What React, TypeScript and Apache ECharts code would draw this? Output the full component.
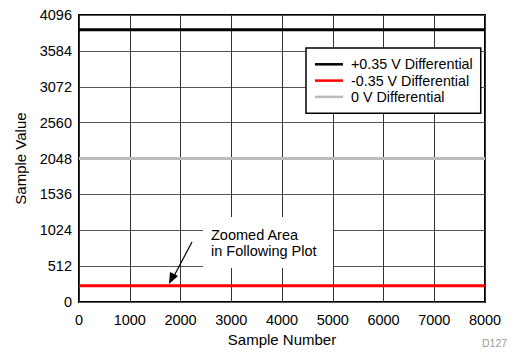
import React, { useEffect, useRef } from "react";
import * as echarts from "echarts";

const sampleNumbers = [0, 1000, 2000, 3000, 4000, 5000, 6000, 7000, 8000];
const positiveDiff = [3886, 3886, 3886, 3886, 3886, 3886, 3886, 3886, 3886];
const negativeDiff = [234, 234, 234, 234, 234, 234, 234, 234, 234];
const zeroDiff = [2050, 2050, 2050, 2050, 2050, 2050, 2050, 2050, 2050];
const seriesNames = ["+0.35 V Differential", "-0.35 V Differential", "0 V Differential"];
const xTicks = [0, 1000, 2000, 3000, 4000, 5000, 6000, 7000, 8000];
const yTicks = [0, 512, 1024, 1536, 2048, 2560, 3072, 3584, 4096];

const FONT = "Liberation Sans, Arial, Helvetica, sans-serif";

export default function App() {
  const ref = useRef<HTMLDivElement>(null);
  useEffect(() => {
    if (!ref.current) return;
    const chart = echarts.init(ref.current, null, { renderer: "svg" });
    const pair = (vals: number[]) => sampleNumbers.map((x, i) => [x, vals[i]]);
    chart.setOption({
      animation: false,
      backgroundColor: "#fff",
      textStyle: { fontFamily: FONT },
      grid: {
        left: 79,
        top: 15,
        width: 406,
        height: 288.5,
        show: true,
        borderColor: "#000",
        borderWidth: 2,
        backgroundColor: "transparent",
      },
      xAxis: {
        type: "value",
        min: xTicks[0],
        max: xTicks[xTicks.length - 1],
        interval: 1000,
        name: "Sample Number",
        nameLocation: "middle",
        nameGap: 27,
        nameTextStyle: { fontSize: 15, color: "#000", fontFamily: FONT },
        axisLine: { show: false },
        axisTick: { show: false },
        axisLabel: {
          fontSize: 14.5,
          color: "#000",
          margin: 10,
          fontFamily: FONT,
          formatter: (v: number) => String(v),
        },
        splitLine: { show: true, lineStyle: { color: "#333", width: 1 } },
      },
      yAxis: {
        type: "value",
        min: yTicks[0],
        max: yTicks[yTicks.length - 1],
        interval: 512,
        name: "Sample Value",
        nameLocation: "middle",
        nameGap: 51,
        nameTextStyle: { fontSize: 15, color: "#000", fontFamily: FONT },
        axisLine: { show: false },
        axisTick: { show: false },
        axisLabel: {
          fontSize: 14.5,
          color: "#000",
          margin: 7,
          fontFamily: FONT,
          formatter: (v: number) => String(v),
        },
        splitLine: { show: true, lineStyle: { color: "#555", width: 1 } },
      },
      legend: {
        orient: "vertical",
        left: 306,
        top: 48,
        width: 178,
        padding: [8.3, 8, 8.3, 9],
        itemGap: 0.3,
        itemWidth: 28,
        itemHeight: 2.5,
        icon: "rect",
        backgroundColor: "#fff",
        borderColor: "#000",
        borderWidth: 1.5,
        borderRadius: 0,
        textStyle: {
          fontSize: 14.3,
          lineHeight: 16,
          color: "#000",
          fontFamily: FONT,
          padding: [0, 0, 0, 3],
        },
        data: seriesNames,
      },
      series: [
        {
          name: seriesNames[0],
          type: "line",
          data: pair(positiveDiff),
          showSymbol: false,
          lineStyle: { color: "#000", width: 3 },
          itemStyle: { color: "#000" },
          z: 3,
        },
        {
          name: seriesNames[1],
          type: "line",
          data: pair(negativeDiff),
          showSymbol: false,
          lineStyle: { color: "#ff0000", width: 3 },
          itemStyle: { color: "#ff0000" },
          z: 3,
        },
        {
          name: seriesNames[2],
          type: "line",
          data: pair(zeroDiff),
          showSymbol: false,
          lineStyle: { color: "#bbbbbb", width: 3 },
          itemStyle: { color: "#bbbbbb" },
          z: 3,
        },
      ],
      graphic: [
        {
          type: "rect",
          shape: { x: 203, y: 217, width: 130, height: 51 },
          style: { fill: "#fff" },
          z: 10,
        },
        {
          type: "text",
          x: 211,
          y: 227.3,
          style: {
            text: "Zoomed Area\nin Following Plot",
            fontSize: 14.5,
            lineHeight: 15.5,
            fill: "#000",
            fontFamily: FONT,
            verticalAlign: "top",
          },
          z: 11,
        },
        {
          type: "line",
          shape: { x1: 192, y1: 242, x2: 174, y2: 276 },
          style: { stroke: "#000", lineWidth: 1.2 },
          z: 11,
        },
        {
          type: "polygon",
          shape: { points: [[169, 284], [170, 272], [178, 276]] },
          style: { fill: "#000" },
          z: 11,
        },
        {
          type: "text",
          x: 482,
          y: 343,
          style: {
            text: "D127",
            fontSize: 10.5,
            fill: "#999",
            fontFamily: FONT,
            verticalAlign: "middle",
          },
        },
      ],
    });
    return () => chart.dispose();
  }, []);
  return (
    <div
      ref={ref}
      style={{ position: "fixed", left: 0, top: 0, width: 513, height: 352 }}
    />
  );
}
